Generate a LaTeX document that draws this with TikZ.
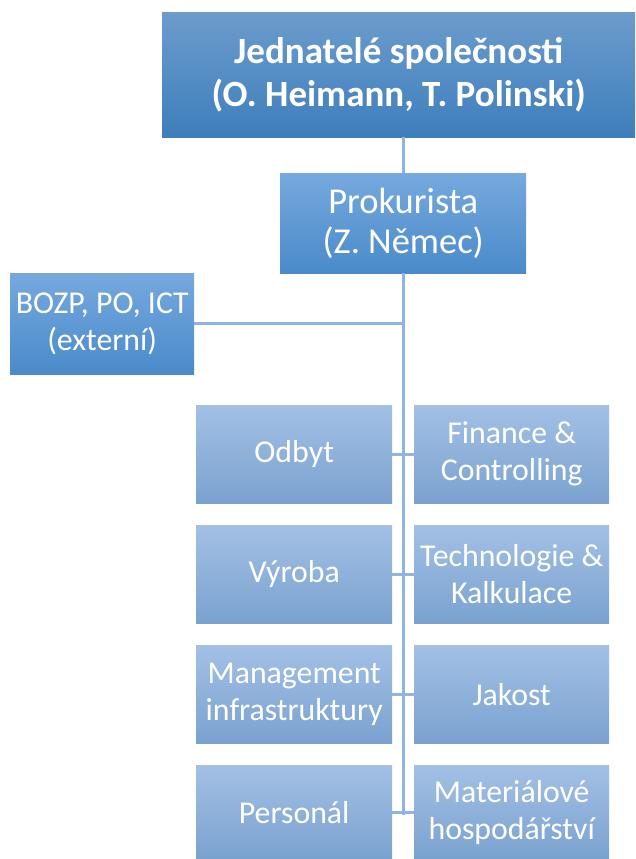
\documentclass[tikz,border=0pt]{standalone}
\usepackage{fontspec}
\setmainfont{Carlito}
\definecolor{topA}{HTML}{6C9CCC}
\definecolor{topB}{HTML}{3E7EBC}
\definecolor{midA}{HTML}{76A9DE}
\definecolor{midB}{HTML}{4A8ACA}
\definecolor{lowA}{HTML}{A3C0E5}
\definecolor{lowB}{HTML}{7AA2CF}
\definecolor{linkc}{HTML}{8FB4E1}
\tikzset{
  box/.style={anchor=north west, inner sep=2pt, align=center, text=white, draw=none},
  topbox/.style={box, top color=topA, bottom color=topB, minimum width=473pt, minimum height=125pt, font=\fontsize{37}{43}\selectfont\bfseries},
  midbox/.style={box, top color=midA, bottom color=midB, font=\fontsize{36.5}{40}\selectfont},
  lowbox/.style={box, top color=lowA, bottom color=lowB, minimum width=196pt, minimum height=98pt, font=\fontsize{31.8}{37}\selectfont},
  link/.style={draw=linkc, line width=3pt}
}
\begin{document}
\begin{tikzpicture}[x=1pt,y=-1pt]
\useasboundingbox (0,0) rectangle (635,859);
\node[topbox] (top) at (162,12) {Jednatelé společnosti\\(O. Heimann, T. Polinski)};
\node[midbox, minimum width=246pt, minimum height=100pt] (prok) at (280,173) {Prokurista\\(Z. Němec)};
\node[midbox, minimum width=184pt, minimum height=101pt, font=\fontsize{31.8}{37}\selectfont] (bozp) at (10,273) {BOZP, PO, ICT\\(externí)};
\node[lowbox] (odbyt) at (196,405) {Odbyt};
\node[lowbox, minimum width=195pt] (fin) at (414,405) {Finance \&\\Controlling};
\node[lowbox] (vyr) at (196,525) {Výroba};
\node[lowbox, minimum width=195pt] (tech) at (414,525) {Technologie \&\\Kalkulace};
\node[lowbox] (mgmt) at (196,645) {Management\\infrastruktury};
\node[lowbox, minimum width=195pt] (jak) at (414,645) {Jakost};
\node[lowbox, minimum height=94pt] (pers) at (196,765) {Personál};
\node[lowbox, minimum width=195pt, minimum height=94pt] (mat) at (414,765) {Materiálové\\hospodářství};
\coordinate (spine) at (403,0);
\coordinate (bottom) at (403,815);
\draw[link] (top.south -| spine) -- (prok.north -| spine);
\draw[link] (prok.south -| spine) -- (bottom);
\draw[link] (bozp.east) -- (bozp.east -| spine);
\draw[link] (odbyt.east) -- (odbyt.east -| spine);
\draw[link] (fin.west) -- (fin.west -| spine);
\draw[link] (vyr.east) -- (vyr.east -| spine);
\draw[link] (tech.west) -- (tech.west -| spine);
\draw[link] (mgmt.east) -- (mgmt.east -| spine);
\draw[link] (jak.west) -- (jak.west -| spine);
\draw[link] (pers.east) -- (pers.east -| spine);
\draw[link] (mat.west) -- (mat.west -| spine);
\end{tikzpicture}
\end{document}
